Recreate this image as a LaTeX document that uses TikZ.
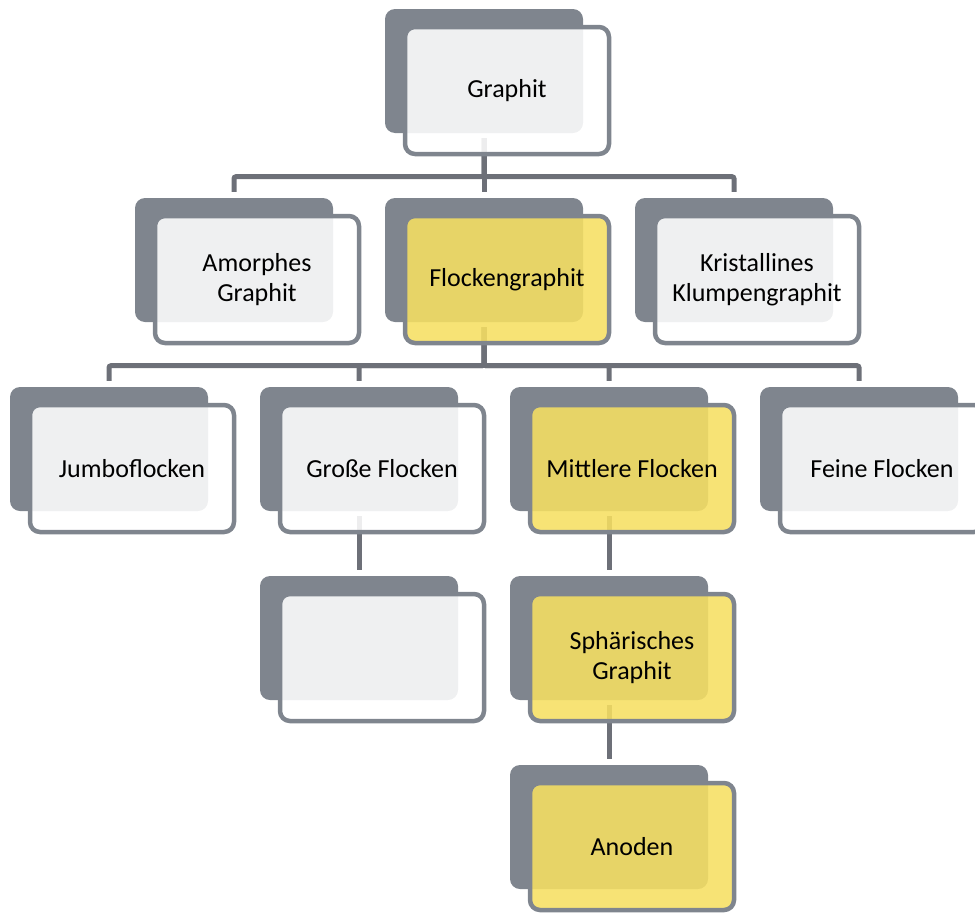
\documentclass[tikz,border=0pt]{standalone}
\usepackage{fontspec}
\setmainfont{Carlito}
\usepackage{tikz}
\usepackage{xcolor}
\definecolor{boxgray}{HTML}{7F858E}
\definecolor{linegray}{HTML}{6D7078}
\definecolor{hiyellow}{HTML}{F6DF62}

\begin{document}
\begin{tikzpicture}[x=1pt,y=-1pt,every node/.style={font=\fontsize{26}{30}\selectfont},
  backbox/.style={fill=boxgray,rounded corners=10pt,minimum width=198pt,minimum height=124pt,inner sep=0pt},
  frontbox/.style={draw=boxgray,line width=4.5pt,fill=white,fill opacity=0.88,text opacity=1,rounded corners=10pt,minimum width=204pt,minimum height=127pt,inner sep=0pt,align=center},
  hibox/.style={frontbox,fill=hiyellow},
  conn/.style={draw=linegray,line width=5pt,rounded corners=2pt}]
\useasboundingbox (0,0) rectangle (975,913);
\node[backbox] (graphit-b) at (484,71) {};
\node[backbox] (amorph-b) at (234,260) {};
\node[backbox] (flocken-b) at (484,260) {};
\node[backbox] (klumpen-b) at (734,260) {};
\node[backbox] (jumbo-b) at (109,449) {};
\node[backbox] (gross-b) at (359,449) {};
\node[backbox] (mittel-b) at (609,449) {};
\node[backbox] (fein-b) at (859,449) {};
\node[backbox] (leer-b) at (359,638) {};
\node[backbox] (sphaer-b) at (609,638) {};
\node[backbox] (anoden-b) at (609,827) {};
\coordinate (bar1) at ([yshift=-43.5pt]graphit-b.south);
\coordinate (bar2) at ([yshift=-43.5pt]flocken-b.south);
\draw[conn] ([yshift=-5pt]graphit-b.south) -- ([yshift=6pt]flocken-b.north);
\foreach \c in {amorph-b,klumpen-b}
  \draw[conn] ([yshift=-5pt]graphit-b.south) -- (bar1) -| ([yshift=6pt]\c.north);
\foreach \c in {jumbo-b,gross-b,mittel-b,fein-b}
  \draw[conn] ([yshift=-5pt]flocken-b.south) -- (bar2) -| ([yshift=6pt]\c.north);
\draw[conn] ([yshift=-5pt]gross-b.south) -- ([yshift=6pt]leer-b.north);
\draw[conn] ([yshift=-5pt]mittel-b.south) -- ([yshift=6pt]sphaer-b.north);
\draw[conn] ([yshift=-5pt]sphaer-b.south) -- ([yshift=6pt]anoden-b.north);
\node[frontbox] (graphit) at ([shift={(23pt,-19.5pt)}]graphit-b.center) {Graphit};
\node[frontbox] (amorph) at ([shift={(23pt,-19.5pt)}]amorph-b.center) {Amorphes\\Graphit};
\node[hibox] (flocken) at ([shift={(23pt,-19.5pt)}]flocken-b.center) {Flockengraphit};
\node[frontbox] (klumpen) at ([shift={(23pt,-19.5pt)}]klumpen-b.center) {Kristallines\\Klumpengraphit};
\node[frontbox] (jumbo) at ([shift={(23pt,-19.5pt)}]jumbo-b.center) {Jumboflocken};
\node[frontbox] (gross) at ([shift={(23pt,-19.5pt)}]gross-b.center) {Große Flocken};
\node[hibox] (mittel) at ([shift={(23pt,-19.5pt)}]mittel-b.center) {Mittlere Flocken};
\node[frontbox] (fein) at ([shift={(23pt,-19.5pt)}]fein-b.center) {Feine Flocken};
\node[frontbox] (leer) at ([shift={(23pt,-19.5pt)}]leer-b.center) {};
\node[hibox] (sphaer) at ([shift={(23pt,-19.5pt)}]sphaer-b.center) {Sphärisches\\Graphit};
\node[hibox] (anoden) at ([shift={(23pt,-19.5pt)}]anoden-b.center) {Anoden};
\end{tikzpicture}
\end{document}
